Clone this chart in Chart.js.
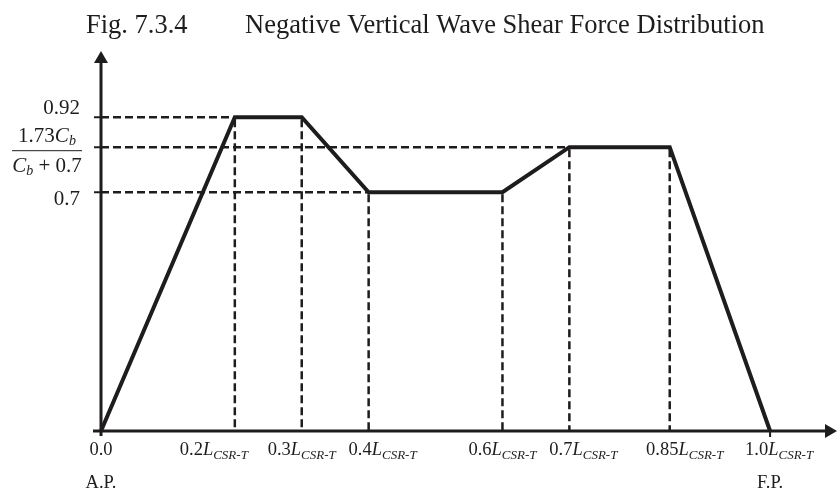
<!DOCTYPE html>
<html lang="en">
<head>
    <meta charset="UTF-8">
    <title>Negative Vertical Wave Shear Force Distribution</title>
    <script src="https://cdn.jsdelivr.net/npm/chart.js"></script>
    <style>
        html, body {
            margin: 0;
            padding: 0;
            background: #fff;
        }

        .container {
            position: relative;
            width: 840px;
            height: 490px;
        }
    </style>
</head>
<body>
    <div class="container">
        <canvas id="shearChart"></canvas>
    </div>

    <script>
        // Shear force envelope along the hull (fraction of L_CSR-T)
        const positions = [0, 0.2, 0.3, 0.4, 0.6, 0.7, 0.85, 1.0];
        const shearValues = [0, 0.92, 0.92, 0.7, 0.7, 0.832, 0.832, 0];

        // Axis labelling
        const xTickValues = [0, 0.2, 0.3, 0.4, 0.6, 0.7, 0.85, 1.0];
        const xTickNumbers = ['0.0', '0.2', '0.3', '0.4', '0.6', '0.7', '0.85', '1.0'];
        const yLevels = [0.92, 0.832, 0.7];
        const yLabels = ['0.92', '1.73Cb/(Cb+0.7)', '0.7'];

        const SERIF = "'Liberation Serif', 'Times New Roman', serif";
        const INK = '#1f1c1d';

        function arrow(ctx, tipX, tipY, dir) {
            const len = 12, half = 7;
            ctx.beginPath();
            if (dir === 'up') {
                ctx.moveTo(tipX, tipY);
                ctx.lineTo(tipX - half, tipY + len);
                ctx.lineTo(tipX + half, tipY + len);
            } else {
                ctx.moveTo(tipX, tipY);
                ctx.lineTo(tipX - len, tipY - half);
                ctx.lineTo(tipX - len, tipY + half);
            }
            ctx.closePath();
            ctx.fill();
        }

        // Draws "0.2L" with the CSR-T subscript, centred on cx
        function drawLengthLabel(ctx, num, cx, baseline, withL) {
            ctx.font = '18.5px ' + SERIF;
            const wNum = ctx.measureText(num).width;
            let wL = 0, wSub = 0;
            if (withL) {
                ctx.font = 'italic 18.5px ' + SERIF;
                wL = ctx.measureText('L').width;
                ctx.font = 'italic 13px ' + SERIF;
                wSub = ctx.measureText('CSR-T').width;
            }
            let x = cx - (wNum + wL + wSub) / 2;
            ctx.textAlign = 'left';
            ctx.font = '18.5px ' + SERIF;
            ctx.fillText(num, x, baseline);
            if (!withL) return;
            x += wNum;
            ctx.font = 'italic 18.5px ' + SERIF;
            ctx.fillText('L', x, baseline);
            x += wL;
            ctx.font = 'italic 13px ' + SERIF;
            ctx.fillText('CSR-T', x, baseline + 4);
        }

        const diagramPlugin = {
            id: 'diagram',
            beforeDatasetsDraw(chart) {
                const ctx = chart.ctx;
                const xs = chart.scales.x, ys = chart.scales.y;
                const x0 = xs.getPixelForValue(0), y0 = ys.getPixelForValue(0);
                ctx.save();
                ctx.strokeStyle = INK;
                ctx.fillStyle = INK;

                // dashed guides
                ctx.lineWidth = 2.5;
                ctx.setLineDash([8, 4]);
                yLevels.forEach(level => {
                    const i = shearValues.indexOf(level);
                    const y = ys.getPixelForValue(level);
                    ctx.beginPath();
                    ctx.moveTo(x0, y);
                    ctx.lineTo(xs.getPixelForValue(positions[i]), y);
                    ctx.stroke();
                });
                for (let i = 1; i < positions.length - 1; i++) {
                    const x = xs.getPixelForValue(positions[i]);
                    ctx.beginPath();
                    ctx.moveTo(x, ys.getPixelForValue(shearValues[i]) + 2);
                    ctx.lineTo(x, y0);
                    ctx.stroke();
                }
                ctx.setLineDash([]);

                // axes
                ctx.lineWidth = 3;
                ctx.beginPath();
                ctx.moveTo(x0, y0 + 5);
                ctx.lineTo(x0, chart.chartArea.top + 8);
                ctx.moveTo(x0 - 8, y0);
                ctx.lineTo(chart.chartArea.right - 8, y0);
                ctx.stroke();
                arrow(ctx, x0, chart.chartArea.top, 'up');
                arrow(ctx, chart.chartArea.right, y0, 'right');

                // small ticks
                ctx.lineWidth = 2;
                ctx.beginPath();
                yLevels.forEach(level => {
                    const y = ys.getPixelForValue(level);
                    ctx.moveTo(x0 - 7, y);
                    ctx.lineTo(x0, y);
                });
                const xEnd = xs.getPixelForValue(1.0);
                ctx.moveTo(xEnd, y0);
                ctx.lineTo(xEnd, y0 + 6);
                ctx.stroke();
                ctx.restore();
            },
            afterDatasetsDraw(chart) {
                const ctx = chart.ctx;
                const xs = chart.scales.x, ys = chart.scales.y;
                ctx.save();
                ctx.fillStyle = INK;
                ctx.textBaseline = 'alphabetic';

                // title
                ctx.font = '26.5px ' + SERIF;
                ctx.textAlign = 'left';
                ctx.fillText('Fig. 7.3.4', 86, 33);
                ctx.fillText('Negative Vertical Wave Shear Force Distribution', 245, 33);

                // y labels
                const right = 80;
                ctx.textAlign = 'right';
                ctx.font = '21px ' + SERIF;
                ctx.fillText(yLabels[0], right, ys.getPixelForValue(yLevels[0]) - 3);
                ctx.fillText(yLabels[2], right, ys.getPixelForValue(yLevels[2]) + 13);

                // fraction 1.73Cb / (Cb + 0.7)
                const yBar = ys.getPixelForValue(yLevels[1]) + 3;
                ctx.font = 'italic 14px ' + SERIF;
                const wb = ctx.measureText('b').width;
                ctx.font = 'italic 21px ' + SERIF;
                const wC = ctx.measureText('C').width;
                ctx.font = '21px ' + SERIF;
                const wTop = ctx.measureText('1.73').width + wC + wb;
                const wBot = wC + wb + ctx.measureText(' + 0.7').width;
                const cx = 47;
                ctx.textAlign = 'left';
                // numerator
                let x = cx - wTop / 2;
                ctx.font = '21px ' + SERIF;
                ctx.fillText('1.73', x, yBar - 8);
                x += ctx.measureText('1.73').width;
                ctx.font = 'italic 21px ' + SERIF;
                ctx.fillText('C', x, yBar - 8);
                ctx.font = 'italic 14px ' + SERIF;
                ctx.fillText('b', x + wC, yBar - 5);
                // denominator
                x = cx - wBot / 2;
                ctx.font = 'italic 21px ' + SERIF;
                ctx.fillText('C', x, yBar + 22);
                ctx.font = 'italic 14px ' + SERIF;
                ctx.fillText('b', x + wC, yBar + 25);
                ctx.font = '21px ' + SERIF;
                ctx.fillText(' + 0.7', x + wC + wb, yBar + 22);
                // bar
                ctx.strokeStyle = INK;
                ctx.lineWidth = 1;
                ctx.beginPath();
                ctx.moveTo(12, yBar + 0.5);
                ctx.lineTo(82, yBar + 0.5);
                ctx.stroke();

                // x labels
                const shift = [0, -21, 0, 14, 0, 14, 15, 9];
                const baseline = ys.getPixelForValue(0) + 24;
                xTickValues.forEach((v, i) => {
                    const cxl = xs.getPixelForValue(v) + shift[i];
                    drawLengthLabel(ctx, xTickNumbers[i], cxl, baseline, i > 0);
                });
                ctx.font = '18.5px ' + SERIF;
                ctx.textAlign = 'center';
                ctx.fillText('A.P.', xs.getPixelForValue(0), baseline + 33);
                ctx.fillText('F.P.', xs.getPixelForValue(1.0), baseline + 33);
                ctx.restore();
            }
        };

        const ctx = document.getElementById('shearChart').getContext('2d');
        const shearChart = new Chart(ctx, {
            type: 'line',
            data: {
                labels: positions,
                datasets: [{
                    data: positions.map((p, i) => ({ x: p, y: shearValues[i] })),
                    borderColor: INK,
                    borderWidth: 4,
                    borderJoinStyle: 'miter',
                    pointRadius: 0,
                    tension: 0,
                    fill: false,
                    clip: false
                }]
            },
            options: {
                responsive: true,
                maintainAspectRatio: false,
                animation: false,
                layout: {
                    padding: { left: 101, right: 3, top: 51, bottom: 59 }
                },
                scales: {
                    x: { type: 'linear', min: 0, max: 1.1, display: false },
                    y: { type: 'linear', min: 0, max: 1.114, display: false }
                },
                plugins: {
                    legend: { display: false },
                    tooltip: { enabled: false }
                }
            },
            plugins: [diagramPlugin]
        });
    </script>
</body>
</html>
